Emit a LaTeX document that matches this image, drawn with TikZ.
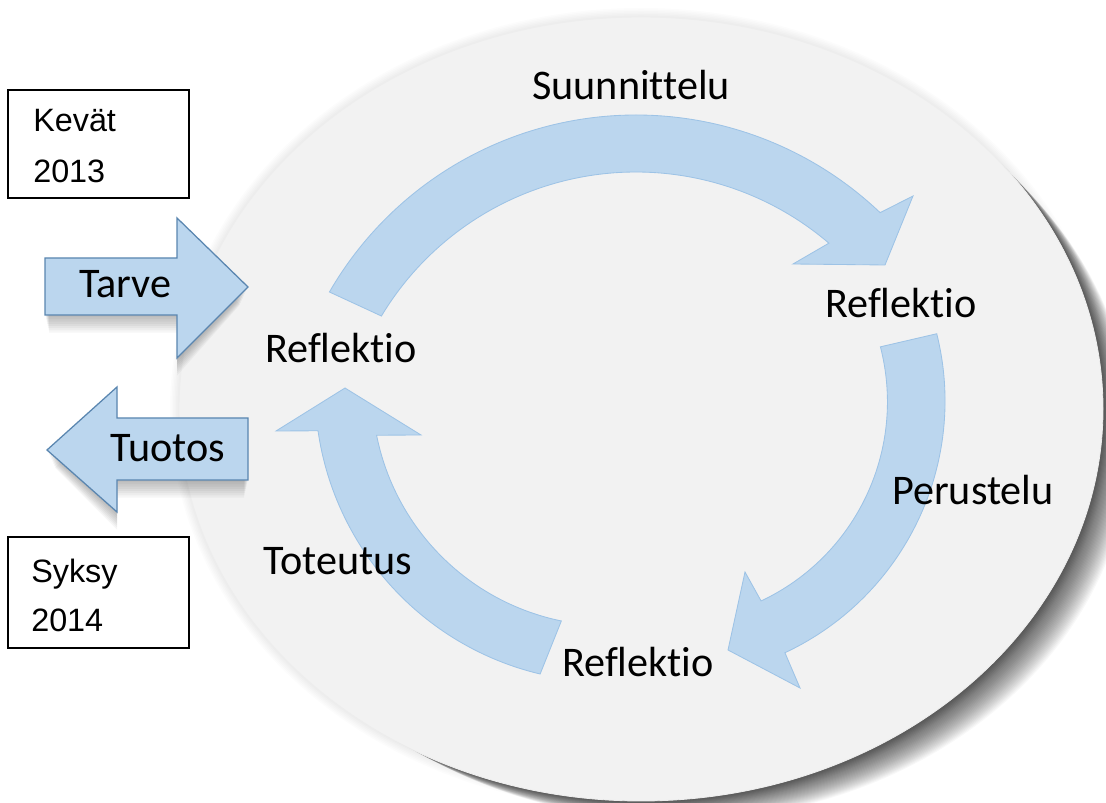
\documentclass[tikz,border=0pt]{standalone}
\usepackage{fontspec}
\newfontfamily\calib[Ligatures={NoCommon,NoRare}]{Carlito}
\newfontfamily\arialf{Liberation Sans}
\definecolor{blfill}{HTML}{BBD6EE}
\definecolor{bledge}{HTML}{9DC3E6}
\definecolor{sideedge}{HTML}{5A86B0}
\definecolor{ellfill}{HTML}{F2F2F2}
\tikzset{
  cyc/.style={fill=blfill, draw=bledge, line width=0.6pt, line join=miter},
  sidearrow/.style={fill=blfill, draw=sideedge, line width=0.9pt, line join=miter},
  lbl/.style={font=\calib\fontsize{30}{36}\selectfont, inner sep=0pt, anchor=base west},
  boxtxt/.style={font=\arialf\fontsize{23}{27}\selectfont, inner sep=0pt, anchor=base west},
  season/.style={draw=black, fill=white, line width=1.1pt}
}
\begin{document}
\begin{tikzpicture}[x=0.025cm,y=0.025cm]
\useasboundingbox (0,0) rectangle (1106,803);
\fill[white] (0,0) rectangle (1106,803);
% ellipse with shadow
\coordinate (ec) at (641,394);
\foreach \i in {1,...,30}{
  \fill[black,opacity=0.028] ([shift={(\i*1.2,-\i*0.9)}]ec) ellipse[x radius=462-\i*0.25, y radius=392-\i*0.25];
}
\foreach \i in {1,...,6}{
  \fill[black,opacity=0.012] (ec) ellipse[x radius=462+\i*1.5, y radius=392+\i*1.5];
}
\fill[ellfill] (ec) ellipse[x radius=462, y radius=392];
\draw[black!7, line width=0.6pt] (ec) ellipse[x radius=462, y radius=392];

% top curved arrow
\coordinate (c1) at (636,334);
\coordinate (h1a) at (913,607);
\coordinate (h1t) at (885,538);
\coordinate (h1b) at (793,539);
\filldraw[cyc] ([shift={(150:354)}]c1) arc[start angle=150, end angle=46.4, radius=354]
  -- (h1a) -- (h1t) -- (h1b) -- ([shift={(49.5:297)}]c1) arc[start angle=49.5, end angle=149, radius=297] -- cycle;

% right curved arrow
\coordinate (c2) at (667,402);
\coordinate (h2a) at (800,115);
\coordinate (h2t) at (728,153);
\coordinate (h2b) at (745,231);
\filldraw[cyc] ([shift={(14:278)}]c2) arc[start angle=14, end angle=-64.9, radius=278]
  -- (h2a) -- (h2t) -- (h2b) -- ([shift={(-64.8:221)}]c2) arc[start angle=-64.8, end angle=14.5, radius=220] -- cycle;

% bottom-left curved arrow
\coordinate (c3) at (608,414);
\coordinate (h3a) at (276,372);
\coordinate (h3t) at (345,415);
\coordinate (h3b) at (421,368);
\filldraw[cyc] ([shift={(256.6:293)}]c3) arc[start angle=256.6, end angle=188.2, radius=293]
  -- (h3a) -- (h3t) -- (h3b) -- ([shift={(191.3:236)}]c3) arc[start angle=191.3, end angle=258.4, radius=237] -- cycle;

% side arrows shadows
\foreach \i in {1,...,8}{
  \fill[black,opacity=0.035] (45+\i*0.5,545-\i*2.2) -- (177,545-\i*2.2) -- (177,585-\i*2.2) -- (248-\i,516-\i*2.2) -- (177,445-\i*2.2) -- (177,488-\i*2.2) -- (45+\i*0.5,488-\i*2.2) -- cycle;
  \fill[black,opacity=0.035] (47+\i,353-\i*2.2) -- (117,416-\i*2.2) -- (117,385-\i*2.2) -- (248-\i*0.5,385-\i*2.2) -- (248-\i*0.5,323-\i*2.2) -- (117,323-\i*2.2) -- (117,291-\i*2.2) -- cycle;
}
% Tarve arrow
\filldraw[sidearrow] (45,545) -- (177,545) -- (177,585) -- (248,516) -- (177,445) -- (177,488) -- (45,488) -- cycle;
\node[lbl] (tarve) at (79,505) {Tarve};
% Tuotos arrow
\filldraw[sidearrow] (47,353) -- (117,416) -- (117,385) -- (248,385) -- (248,323) -- (117,323) -- (117,291) -- cycle;
\node[lbl] (tuotos) at (110,341) {Tuotos};

% season boxes
\draw[season] (8,713) rectangle (189,605);
\node[boxtxt] (kevat) at (33,671) {Kevät};
\node[boxtxt] (v2013) at (33,620) {2013};
\draw[season] (8,266) rectangle (189,155);
\node[boxtxt] (syksy) at (31,220) {Syksy};
\node[boxtxt] (v2014) at (31,171) {2014};

% cycle labels
\node[lbl] (suun) at (532,703) {Suunnittelu};
\node[lbl] (refR) at (825,485) {Reflektio};
\node[lbl] (refL) at (265,440) {Reflektio};
\node[lbl] (peru) at (892,298) {Perustelu};
\node[lbl] (tote) at (263,228) {Toteutus};
\node[lbl] (refB) at (562,126) {Reflektio};
\end{tikzpicture}
\end{document}
